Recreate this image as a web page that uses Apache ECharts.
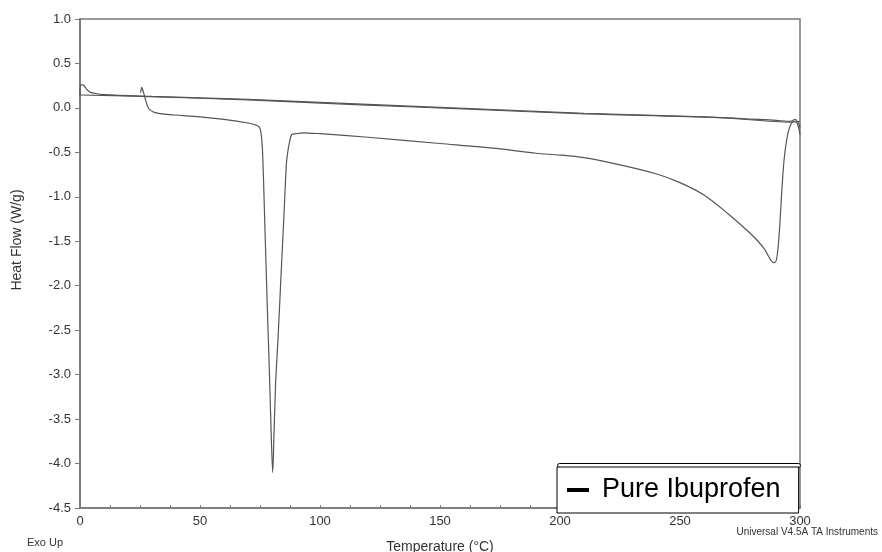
<!DOCTYPE html>
<html>
<head>
<meta charset="utf-8">
<script src="https://cdn.jsdelivr.net/npm/echarts@6/dist/echarts.min.js"></script>
<style>html,body{margin:0;padding:0;background:#fff}#c{width:882px;height:552px}</style>
</head>
<body>
<div id="c"></div>
<script>
// First heating run (Pure Ibuprofen): temperature (°C) and heat flow (W/g)
const heat1T = [25.3, 25.7, 26.3, 27, 28, 29, 31, 35, 40, 50, 60, 70, 73, 74.5, 75.3, 76, 77, 78, 79, 79.7, 80.3, 80.8, 81.5, 82.5, 84, 85, 86, 86.7, 87.2, 88.2, 90, 93, 100, 120, 150, 175, 190, 200, 210, 225, 240, 250, 260, 270, 280, 285, 288, 289.5, 290.5, 291.5, 292.5, 293.5, 295, 296.5, 298, 299.2, 300];
const heat1V = [0.17, 0.23, 0.19, 0.12, 0.03, -0.02, -0.05, -0.07, -0.08, -0.10, -0.13, -0.17, -0.19, -0.21, -0.26, -0.45, -1.3, -2.2, -3.05, -3.7, -4.1, -3.7, -3.1, -2.6, -1.75, -1.2, -0.63, -0.47, -0.4, -0.3, -0.29, -0.28, -0.29, -0.33, -0.40, -0.46, -0.51, -0.53, -0.56, -0.64, -0.74, -0.84, -0.98, -1.19, -1.43, -1.58, -1.72, -1.74, -1.66, -1.35, -0.9, -0.55, -0.28, -0.17, -0.15, -0.2, -0.3];
// Cooling run
const coolT = [300, 296, 267, 208, 167, 117, 70, 25, 0];
const coolV = [-0.15, -0.16, -0.11, -0.065, -0.02, 0.035, 0.09, 0.13, 0.145];
// Second heating run
const heat2T = [0, 0.2, 1.2, 2.5, 4, 6, 10, 30, 70, 120, 170, 210, 260, 290, 296, 298, 299.5, 300];
const heat2V = [0.14, 0.26, 0.26, 0.22, 0.18, 0.165, 0.15, 0.13, 0.095, 0.04, -0.015, -0.06, -0.1, -0.14, -0.15, -0.13, -0.18, -0.22];

const xTicks = [0, 50, 100, 150, 200, 250, 300];
const yTicks = [1.0, 0.5, 0.0, -0.5, -1.0, -1.5, -2.0, -2.5, -3.0, -3.5, -4.0, -4.5];

const zip = (a, b) => a.map((t, i) => [t, b[i]]);
const lineCol = '#555';
const axisCol = '#777';
const font = 'Liberation Sans, Arial, sans-serif';

const chart = echarts.init(document.getElementById('c'), null, {renderer: 'canvas'});
chart.setOption({
  animation: false,
  backgroundColor: '#fff',
  grid: {left: 80, right: 82, top: 19, bottom: 44, outerBoundsMode: 'none', containLabel: false, show: true, borderColor: axisCol, borderWidth: 1.5, backgroundColor: 'transparent'},
  xAxis: {
    type: 'value', min: xTicks[0], max: xTicks[xTicks.length - 1], interval: 50,
    name: 'Temperature (°C)', nameLocation: 'middle', nameGap: 32,
    nameTextStyle: {fontFamily: font, fontSize: 14, color: '#333'},
    axisLine: {onZero: false, lineStyle: {color: axisCol, width: 1.5}},
    axisTick: {inside: true, length: 3, lineStyle: {color: axisCol}},
    minorTick: {show: true, splitNumber: 4, length: 3, lineStyle: {color: axisCol}},
    splitLine: {show: false},
    axisLabel: {fontFamily: font, fontSize: 13, color: '#333', margin: 7}
  },
  yAxis: {
    type: 'value', min: yTicks[yTicks.length - 1], max: yTicks[0], interval: 0.5,
    axisLine: {onZero: false, lineStyle: {color: axisCol, width: 1.5}},
    axisTick: {inside: false, length: 5, lineStyle: {color: axisCol}},
    splitLine: {show: false},
    axisLabel: {fontFamily: font, fontSize: 13, color: '#333', margin: 9, formatter: v => v.toFixed(1)}
  },
  legend: {
    data: ['Pure Ibuprofen'], left: 557, top: 467,
    backgroundColor: '#fff', borderColor: '#000', borderWidth: 1,
    padding: [8, 18, 8, 10],
    icon: 'rect', itemWidth: 22, itemHeight: 4,
    itemStyle: {color: '#000'},
    textStyle: {fontFamily: font, fontSize: 27, color: '#000', lineHeight: 30, padding: [0, 0, 0, 8]},
    z: 10
  },
  graphic: [
    {type: 'rect', z: 9, shape: {x: 557.5, y: 463.5, width: 243, height: 4, r: 2}, style: {fill: '#fff', stroke: '#000', lineWidth: 1}},
    {type: 'text', x: 17, y: 240, rotation: Math.PI / 2, style: {text: 'Heat Flow (W/g)', font: '14px ' + font, fill: '#333', align: 'center', verticalAlign: 'middle'}},
    {type: 'text', left: 27, top: 537, style: {text: 'Exo Up', font: '11px ' + font, fill: '#333'}},
    {type: 'text', right: 4, top: 527, style: {text: 'Universal V4.5A TA Instruments', font: '10px ' + font, fill: '#333'}}
  ],
  series: [
    {name: 'Pure Ibuprofen', type: 'line', data: zip(heat1T, heat1V), showSymbol: false, smooth: 0.3, lineStyle: {color: lineCol, width: 1.2}, itemStyle: {color: lineCol}},
    {name: 'cooling', type: 'line', data: zip(coolT, coolV), showSymbol: false, smooth: 0.3, lineStyle: {color: lineCol, width: 1.2}},
    {name: 'reheat', type: 'line', data: zip(heat2T, heat2V), showSymbol: false, smooth: 0.3, lineStyle: {color: lineCol, width: 1.2}}
  ]
});
</script>
</body>
</html>
